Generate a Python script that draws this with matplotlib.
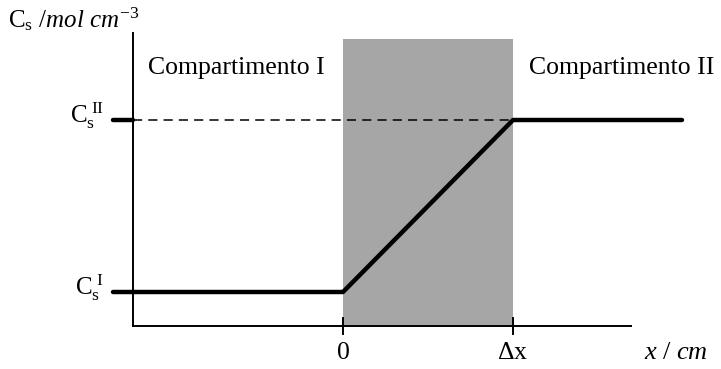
import matplotlib
matplotlib.use("Agg")
import matplotlib.pyplot as plt

plt.rcParams['font.family'] = ['Liberation Serif', 'DejaVu Serif']
plt.rcParams['mathtext.fontset'] = 'custom'
plt.rcParams['mathtext.rm'] = 'Liberation Serif'
plt.rcParams['mathtext.it'] = 'Liberation Serif:italic'

# concentration profile across the membrane (x in units of dx)
x_profile = [-1.235, 0.0, 1.0, 1.994]
c_profile = [1.0, 1.0, 3.0, 3.0]
c_levels = [1.0, 3.0]
c_labels = [r'C$_\mathrm{s}^{\ \mathrm{I}}$', r'C$_\mathrm{s}^{\ \mathrm{II}}$']
x_ticks = [0.0, 1.0]
x_ticklabels = ['0', r'$\Delta$x']
membrane = (0.0, 1.0)

x_left, x_right = -1.235, 1.694   # axis extent
y_bottom, y_top = 0.605, 4.01

fig = plt.figure(figsize=(7.21, 3.69), dpi=100)
ax = fig.add_axes([0, 0, 1, 1])
ax.set_xlim(-343 / 170, 378 / 170)
ax.set_ylim(1 - 77 / 86, 1 + 292 / 86)
ax.axis('off')

# membrane region
ax.fill_between(membrane, y_bottom, 3.94, color='#a6a6a6', lw=0, zorder=1)

# axes
ax.plot([x_left, x_left], [y_bottom, y_top], color='black', lw=1.4, zorder=3)
ax.plot([x_left, x_right], [y_bottom, y_bottom], color='black', lw=1.4, zorder=3)

# dashed reference line for C_s^II
ax.plot([x_left, membrane[1]], [c_levels[1], c_levels[1]], color='black', lw=1.1,
        dashes=(6, 4), zorder=2)

# y ticks
for c, lab in zip(c_levels, c_labels):
    ax.plot([x_left - 0.118, x_left], [c, c], color='black', lw=3.2,
            solid_capstyle='round', zorder=4)
    ax.text(x_left - 0.175, c + 0.05, lab, ha='right', va='center', fontsize=18)

# x ticks
for xt, lab in zip(x_ticks, x_ticklabels):
    ax.plot([xt, xt], [y_bottom - 0.09, y_bottom + 0.09], color='black', lw=1.4, zorder=3)
    ax.text(xt, y_bottom - 0.32, lab, ha='center', va='center', fontsize=18.5)

# profile
ax.plot(x_profile, c_profile, color='black', lw=3.2, solid_capstyle='round', zorder=5)

ax.text(-1.148, 3.6, 'Compartimento I', ha='left', va='center', fontsize=18.5)
ax.text(1.094, 3.6, 'Compartimento II', ha='left', va='center', fontsize=18.5)
ax.text(-1.97, 4.17, r'C$_\mathrm{s}$ $\mathit{/mol\ cm}^{-3}$', ha='left', va='center',
        fontsize=18)
ax.text(1.96, y_bottom - 0.32, r'$\mathit{x\ /\ cm}$', ha='center', va='center', fontsize=19)

fig.savefig('out.png', dpi=100)
